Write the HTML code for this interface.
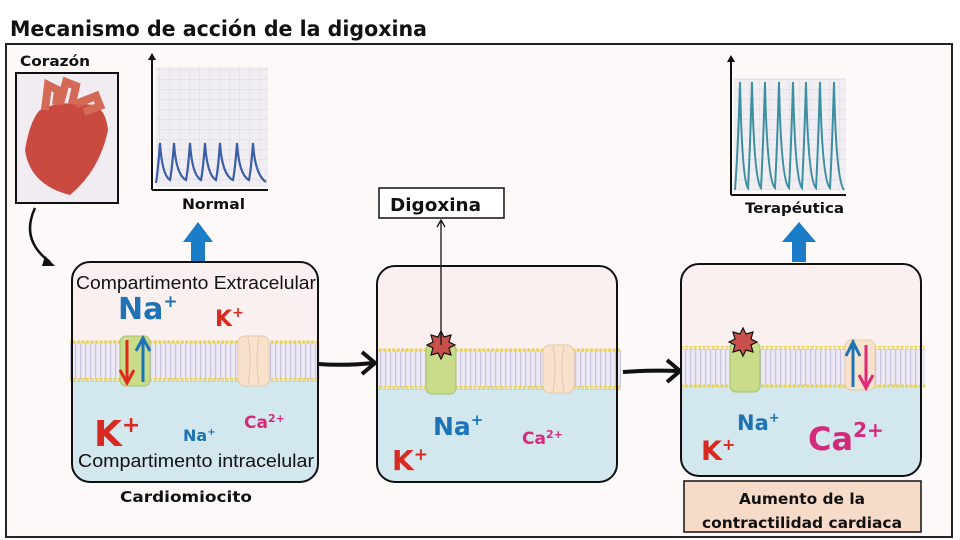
<!DOCTYPE html>
<html><head><meta charset="utf-8"><style>
body{margin:0;background:#fff;}
svg{display:block;font-family:"Liberation Sans",sans-serif;}
.b{font-family:"DejaVu Sans","Liberation Sans",sans-serif;font-weight:bold;}
</style></head><body>
<svg width="960" height="540" viewBox="0 0 960 540" xmlns="http://www.w3.org/2000/svg">
<defs>
<pattern id="lip" width="5" height="40" patternUnits="userSpaceOnUse">
<rect width="5" height="40" fill="#ece9f4"/>
<rect x="0" y="0" width="1.2" height="40" fill="#c9c3de"/>
</pattern>
<pattern id="dots" width="4.5" height="4" patternUnits="userSpaceOnUse">
<circle cx="2.2" cy="2" r="1.8" fill="#e8d45a"/>
</pattern>
<pattern id="grid" width="10" height="10" patternUnits="userSpaceOnUse">
<rect width="10" height="10" fill="#f1eef3"/>
<path d="M10 0V10M0 10H10" stroke="#d8cfd8" stroke-width="0.7"/>
</pattern>
</defs>
<rect width="960" height="540" fill="#fff"/>
<text x="10" y="36" class="b" font-size="21" fill="#111" textLength="417" lengthAdjust="spacingAndGlyphs">Mecanismo de acción de la digoxina</text>
<rect x="6" y="44" width="946" height="493" fill="#fdf9f9" stroke="#222" stroke-width="2"/>

<!-- heart -->
<text x="20" y="66" class="b" font-size="14" fill="#111" textLength="70" lengthAdjust="spacingAndGlyphs">Corazón</text>
<rect x="16" y="73" width="102" height="130" fill="#f1ecf2" stroke="#111" stroke-width="2"/>
<path d="M40 110 Q30 120 25 150 Q30 185 70 195 Q100 170 108 130 Q105 100 80 105 Q60 100 40 110Z" fill="#c94a3e"/>
<path d="M45 110 L48 85 L58 90 L56 105 M60 104 L66 82 L76 86 L72 104 M76 104 L96 96 L100 106 L84 112" stroke="#d46a55" stroke-width="8" fill="none"/>
<path d="M35 208 Q20 240 50 262" stroke="#111" stroke-width="2.5" fill="none"/>
<path d="M45 256 L55 266 L42 266Z" fill="#111"/>

<!-- ECG normal -->
<rect x="156" y="67" width="112" height="120" fill="url(#grid)"/>
<path d="M152 190V56M268 190H152" stroke="#111" stroke-width="2" fill="none"/>
<path d="M148 60L152 53L156 60Z" fill="#111"/>
<path d="M156 183 Q158 170 160 143 Q162 175 170 180 Q172 170 174 143 Q176 175 186 180 Q188 170 190 143 Q192 175 201 180 Q203 170 205 143 Q207 175 216 180 Q218 170 220 143 Q222 175 233 180 Q235 170 237 143 Q239 175 249 180 Q251 170 253 143 Q255 175 266 182" stroke="#3a5ea8" stroke-width="2.2" fill="none"/>
<text x="182" y="209" class="b" font-size="14" fill="#111" textLength="63" lengthAdjust="spacingAndGlyphs">Normal</text>
<path d="M183 242L198 222L213 242H205V262H191V242Z" fill="#1b7cc7"/>

<!-- ECG terapeutica -->
<rect x="734" y="78" width="112" height="112" fill="url(#grid)"/>
<path d="M731 195V58M846 195H731" stroke="#111" stroke-width="2" fill="none"/>
<path d="M727 62L731 55L735 62Z" fill="#111"/>
<path d="M735 190 Q738 150 740 82 Q742 180 748 188 Q750 150 752 82 Q754 180 761 188 Q763 150 765 82 Q767 180 775 188 Q777 150 779 82 Q781 180 789 188 Q791 150 793 82 Q795 180 802 188 Q804 150 806 82 Q808 180 816 188 Q818 150 820 82 Q822 180 830 188 Q832 150 834 82 Q836 180 844 190" stroke="#3b8fa0" stroke-width="2" fill="none"/>
<text x="745" y="213" class="b" font-size="14" fill="#111" textLength="99" lengthAdjust="spacingAndGlyphs">Terapéutica</text>
<path d="M782 242L799 222L816 242H806V262H792V242Z" fill="#1b7cc7"/>

<!-- Box 1 -->
<clipPath id="c1"><rect x="72" y="262" width="246" height="220" rx="18"/></clipPath>
<g clip-path="url(#c1)">
<rect x="72" y="262" width="246" height="220" fill="#fbf0f0"/>
<rect x="72" y="380" width="246" height="102" fill="#d3e7ef"/>
</g>
<rect x="70" y="343" width="250" height="37" fill="url(#lip)"/>
<rect x="70" y="340" width="250" height="4" fill="url(#dots)"/>
<rect x="70" y="378" width="250" height="4" fill="url(#dots)"/>
<rect x="72" y="262" width="246" height="220" rx="18" fill="none" stroke="#111" stroke-width="2"/>
<rect x="120" y="336" width="30" height="50" rx="6" fill="#c8dc8a" stroke="#a8c070"/>
<path d="M127 340V380" stroke="#e0291c" stroke-width="3"/><path d="M120 370L127 383L134 370" stroke="#e0291c" stroke-width="3" fill="none"/>
<path d="M143 382V340" stroke="#1d73b5" stroke-width="3"/><path d="M136 351L143 338L150 351" stroke="#1d73b5" stroke-width="3" fill="none"/>
<rect x="238" y="336" width="31" height="50" rx="7" fill="#f8e2cc" stroke="#e3c8ae"/>
<path d="M248 337Q252 361 248 385M259 337Q255 361 259 385" stroke="#e3c8ae" fill="none"/>
<text x="76" y="289" font-size="18" fill="#111" textLength="240" lengthAdjust="spacingAndGlyphs">Compartimento Extracelular</text>
<text x="118" y="319" class="b" font-size="30" fill="#1d73b5">Na<tspan font-size="17" dy="-12">+</tspan></text>
<text x="215" y="326" class="b" font-size="22" fill="#d82a20">K<tspan font-size="14" dy="-9">+</tspan></text>
<text x="94" y="446" class="b" font-size="36" fill="#d82a20">K<tspan font-size="22" dy="-14">+</tspan></text>
<text x="183" y="441" class="b" font-size="16" fill="#1d73b5">Na<tspan font-size="10" dy="-6">+</tspan></text>
<text x="244" y="428" class="b" font-size="17" fill="#d42a7a">Ca<tspan font-size="11" dy="-6">2+</tspan></text>
<text x="78" y="467" font-size="18" fill="#111" textLength="236" lengthAdjust="spacingAndGlyphs">Compartimento intracelular</text>
<text x="120" y="502" class="b" font-size="15" fill="#111" textLength="132" lengthAdjust="spacingAndGlyphs">Cardiomiocito</text>

<!-- arrow 1 -->
<path d="M318 364 Q345 366 373 363" stroke="#111" stroke-width="4" fill="none"/>
<path d="M362 352L375 363L362 374" stroke="#111" stroke-width="4" fill="none"/>

<!-- Box 2 -->
<clipPath id="c2"><rect x="377" y="266" width="240" height="216" rx="18"/></clipPath>
<g clip-path="url(#c2)">
<rect x="377" y="266" width="240" height="216" fill="#fbf0f0"/>
<rect x="377" y="388" width="240" height="94" fill="#d3e7ef"/>
</g>
<rect x="377" y="351" width="244" height="37" fill="url(#lip)"/>
<rect x="377" y="348" width="244" height="4" fill="url(#dots)"/>
<rect x="377" y="386" width="244" height="4" fill="url(#dots)"/>
<rect x="377" y="266" width="240" height="216" rx="18" fill="none" stroke="#111" stroke-width="2"/>
<rect x="426" y="344" width="30" height="50" rx="6" fill="#c8dc8a" stroke="#a8c070"/>
<rect x="543" y="345" width="31" height="48" rx="7" fill="#f8e2cc" stroke="#e3c8ae"/>
<path d="M553 346Q557 369 553 392M564 346Q560 369 564 392" stroke="#e3c8ae" fill="none"/>
<polygon points="441,331 444,337 451,335 449,342 455,345 449,348 451,355 444,353 441,359 438,353 431,355 433,348 427,345 433,342 431,335 438,337" fill="#c9504a" stroke="#111" stroke-width="1.2"/>
<path d="M441 345V221" stroke="#111" stroke-width="1.3"/>
<path d="M437 227L441 220L445 227" stroke="#111" stroke-width="1.3" fill="none"/>
<rect x="379" y="188" width="125" height="30" fill="#fff" stroke="#111" stroke-width="1.5"/>
<text x="390" y="211" class="b" font-size="18" fill="#111" textLength="91" lengthAdjust="spacingAndGlyphs">Digoxina</text>
<text x="433" y="435" class="b" font-size="25" fill="#1d73b5">Na<tspan font-size="15" dy="-10">+</tspan></text>
<text x="522" y="444" class="b" font-size="17" fill="#d42a7a">Ca<tspan font-size="11" dy="-6">2+</tspan></text>
<text x="392" y="470" class="b" font-size="28" fill="#d82a20">K<tspan font-size="17" dy="-10">+</tspan></text>

<!-- arrow 2 -->
<path d="M623 372 Q650 370 678 371" stroke="#111" stroke-width="4" fill="none"/>
<path d="M667 360L680 371L667 382" stroke="#111" stroke-width="4" fill="none"/>

<!-- Box 3 -->
<clipPath id="c3"><rect x="681" y="264" width="240" height="212" rx="18"/></clipPath>
<g clip-path="url(#c3)">
<rect x="681" y="264" width="240" height="212" fill="#fbf0f0"/>
<rect x="681" y="386" width="240" height="90" fill="#d3e7ef"/>
</g>
<rect x="681" y="349" width="244" height="37" fill="url(#lip)"/>
<rect x="681" y="346" width="244" height="4" fill="url(#dots)"/>
<rect x="681" y="384" width="244" height="4" fill="url(#dots)"/>
<rect x="681" y="264" width="240" height="212" rx="18" fill="none" stroke="#111" stroke-width="2"/>
<rect x="730" y="342" width="30" height="50" rx="6" fill="#c8dc8a" stroke="#a8c070"/>
<rect x="845" y="340" width="30" height="50" rx="6" fill="#f8e2cc" stroke="#e3c8ae"/>
<path d="M853 387V345" stroke="#1d73b5" stroke-width="3"/><path d="M846 356L853 342L860 356" stroke="#1d73b5" stroke-width="3" fill="none"/>
<path d="M866 345V386" stroke="#e0287a" stroke-width="3"/><path d="M859 375L866 388L873 375" stroke="#e0287a" stroke-width="3" fill="none"/>
<polygon points="743,328 746,334 753,332 751,339 757,342 751,345 753,352 746,350 743,356 740,350 733,352 735,345 729,342 735,339 733,332 740,334" fill="#c9504a" stroke="#111" stroke-width="1.2"/>
<text x="737" y="430" class="b" font-size="21" fill="#1d73b5">Na<tspan font-size="13" dy="-8">+</tspan></text>
<text x="808" y="450" class="b" font-size="32" fill="#d42a7a">Ca<tspan font-size="20" dy="-13">2+</tspan></text>
<text x="701" y="460" class="b" font-size="27" fill="#d82a20">K<tspan font-size="16" dy="-10">+</tspan></text>

<rect x="684" y="481" width="237" height="51" fill="#f6dcc8" stroke="#111" stroke-width="1.5"/>
<text x="802" y="504" class="b" font-size="15" fill="#111" text-anchor="middle" textLength="126" lengthAdjust="spacingAndGlyphs">Aumento de la</text>
<text x="802" y="528" class="b" font-size="15" fill="#111" text-anchor="middle" textLength="200" lengthAdjust="spacingAndGlyphs">contractilidad cardiaca</text>
</svg>
</body></html>
